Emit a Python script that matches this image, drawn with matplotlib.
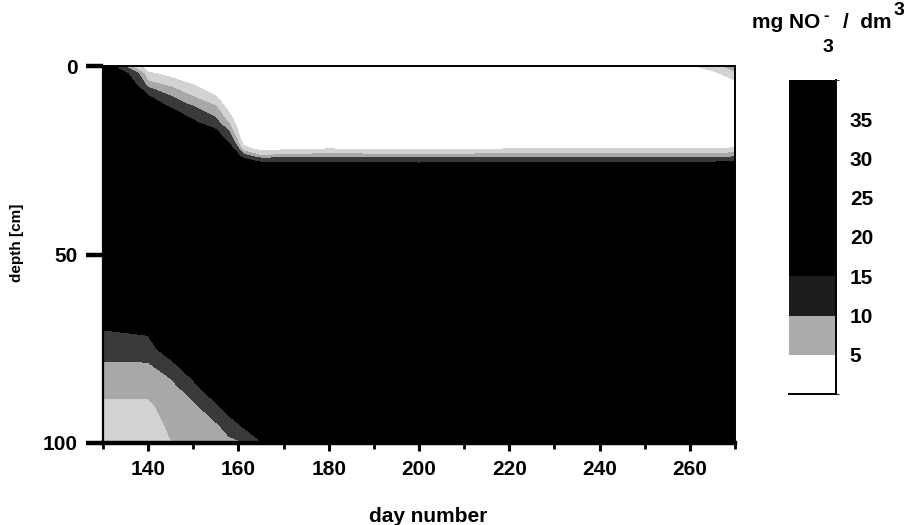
import numpy as np
import matplotlib
matplotlib.use("Agg")
import matplotlib.pyplot as plt
from matplotlib.colors import ListedColormap, BoundaryNorm
from matplotlib.cm import ScalarMappable
from matplotlib.ticker import MultipleLocator

plt.rcParams["font.family"] = ["Liberation Sans", "DejaVu Sans"]
plt.rcParams["font.weight"] = "bold"

# sampling grid: day of year and depth below surface
days = [130, 135, 140, 145, 150, 155, 158, 161, 165, 170, 180, 200, 220, 240, 260, 265, 270]
depths = [0, 2, 5, 10, 15, 20, 22, 24, 26, 30, 40, 50, 60, 70, 75, 80, 85, 90, 95, 100]

# nitrate profiles (mg NO3- / dm3), one list per sampling day, top to bottom
no3_d130 = [20, 24, 27, 30, 32, 33, 33, 33, 34, 34, 34, 32, 24, 15, 12, 9, 8, 7.2, 6.5, 6]
no3_d135 = [9, 16, 21, 28, 31, 33, 33, 33, 34, 34, 34, 32, 25, 15.5, 12, 9, 8, 7.2, 6.5, 6]
no3_d140 = [3, 5.5, 8.5, 20, 29, 32, 33, 33, 34, 34, 34, 33, 27, 16, 12.5, 9, 8, 7.2, 6.5, 6.2]
no3_d145 = [2, 4, 7, 12, 25, 31, 32, 33, 33, 34, 34, 33, 30, 25, 19, 12, 8.5, 8.2, 7.9, 7.4]
no3_d150 = [1, 2, 5, 9, 16, 28, 30, 32, 33, 34, 34, 34, 32, 30, 26, 19, 13, 9, 8.5, 8]
no3_d155 = [0.5, 1, 2, 7, 11, 22, 26, 29, 31, 33, 34, 34, 33, 32, 30, 28, 21, 14, 9.5, 8.5]
no3_d158 = [0.5, 0.5, 1, 3, 7, 13, 19, 26, 29, 32, 34, 34, 33, 33, 32, 30, 26, 19, 12, 9]
no3_d161 = [0.5, 0.5, 0.5, 1, 2, 4, 6, 12, 24, 30, 34, 34, 33, 33, 33, 32, 30, 25, 16, 9.5]
no3_d165 = [0.5, 0.5, 0.5, 0.5, 1, 2, 4, 8, 17, 28, 33, 34, 34, 33, 33, 33, 32, 30, 24, 14]
no3_d170 = [0.5, 0.5, 0.5, 0.5, 1, 2, 4.5, 8.5, 17, 28, 33, 34, 34, 33, 33, 33, 33, 32, 30, 20]
no3_d180 = [0.5, 0.5, 0.5, 0.5, 1, 2, 5, 9, 17, 29, 33, 34, 34, 34, 33, 33, 33, 33, 32, 30]
no3_d200 = [0.5, 0.5, 0.5, 0.5, 1, 2, 4.5, 8.5, 16, 28, 33, 34, 34, 34, 33, 33, 33, 33, 32, 31]
no3_d220 = [0.5, 0.5, 0.5, 0.5, 1, 2.5, 5, 9, 17, 29, 33, 34, 34, 34, 33, 33, 33, 33, 32, 31]
no3_d240 = [0.5, 0.5, 0.5, 0.5, 1, 2.5, 5, 9, 17, 29, 33, 34, 34, 34, 33, 33, 33, 33, 32, 31]
no3_d260 = [4.5, 2, 1, 0.5, 1, 2, 5, 9, 17, 29, 33, 34, 34, 34, 33, 33, 33, 33, 32, 31]
no3_d265 = [6.5, 4, 1.5, 0.5, 1, 2.5, 5, 9, 17, 29, 33, 34, 34, 34, 33, 33, 33, 33, 32, 31]
no3_d270 = [8.5, 7, 3.5, 1, 1, 2.5, 5.5, 9.5, 18, 29, 33, 34, 34, 34, 33, 33, 33, 33, 32, 31]

profiles = [no3_d130, no3_d135, no3_d140, no3_d145, no3_d150, no3_d155, no3_d158,
            no3_d161, no3_d165, no3_d170, no3_d180, no3_d200, no3_d220, no3_d240,
            no3_d260, no3_d265, no3_d270]

# shading classes in the field and in the legend bar
fill_levels = [0, 5, 7.5, 10, 15, 40]
fill_colors = ["white", "#d2d2d2", "#a8a8a8", "#3a3a3a", "black"]
bar_levels = [0, 5, 10, 15, 20, 25, 30, 35, 40]
bar_colors = ["white", "#ababab", "#1c1c1c", "black", "black", "black", "black", "black"]
bar_ticks = [5, 10, 15, 20, 25, 30, 35]

conc = np.array(profiles).T

fig = plt.figure(figsize=(9.09, 5.25), dpi=100)
ax = fig.add_axes([103 / 909, 1 - 443 / 525, 632 / 909, 377 / 525])

ax.contourf(days, depths, conc, levels=fill_levels, colors=fill_colors)

ax.set_xlim(130, 270)
ax.set_ylim(100, 0)
ax.set_xticks([140, 160, 180, 200, 220, 240, 260])
ax.xaxis.set_minor_locator(MultipleLocator(10))
ax.set_yticks([0, 50, 100])

ax.tick_params(axis="x", which="major", length=6, width=2.2, pad=6, labelsize=15)
ax.tick_params(axis="x", which="minor", length=4, width=2.0)
ax.tick_params(axis="y", which="major", length=12, width=3.2, pad=6, labelsize=15)

ax.spines["left"].set_linewidth(1.6)
ax.spines["bottom"].set_linewidth(3.2)
ax.spines["top"].set_linewidth(1.4)
ax.spines["right"].set_linewidth(1.4)

ax.set_xlabel("day number", fontsize=15, fontweight="bold")
ax.xaxis.set_label_coords(0.515, -0.17)
ax.set_ylabel("depth [cm]", fontsize=11, fontweight="bold")
ax.yaxis.set_label_coords(-0.125, 0.53)

# legend bar
cax = fig.add_axes([789 / 909, 1 - 394 / 525, 47 / 909, 314 / 525])
sm = ScalarMappable(norm=BoundaryNorm(bar_levels, len(bar_colors)),
                    cmap=ListedColormap(bar_colors))
cb = fig.colorbar(sm, cax=cax, ticks=bar_ticks)
cb.outline.set_visible(False)
cax.tick_params(length=0, pad=10, labelsize=15)
cax.plot([0, 1], [0, 0], color="black", lw=1.4, transform=cax.transAxes, clip_on=False)
cax.plot([1, 1], [0, 1], color="black", lw=1.4, transform=cax.transAxes, clip_on=False)

# unit label above the bar: mg NO3- / dm3
def px(x, y):
    return x / 909, 1 - y / 525

fig.text(*px(752, 28), "mg NO", fontsize=15, va="baseline")
fig.text(*px(823, 20), "-", fontsize=12, va="baseline")
fig.text(*px(823, 52), "3", fontsize=14, va="baseline")
fig.text(*px(843, 28), "/  dm", fontsize=15, va="baseline")
fig.text(*px(894, 15), "3", fontsize=14, va="baseline")

fig.savefig("out.png", dpi=100)
